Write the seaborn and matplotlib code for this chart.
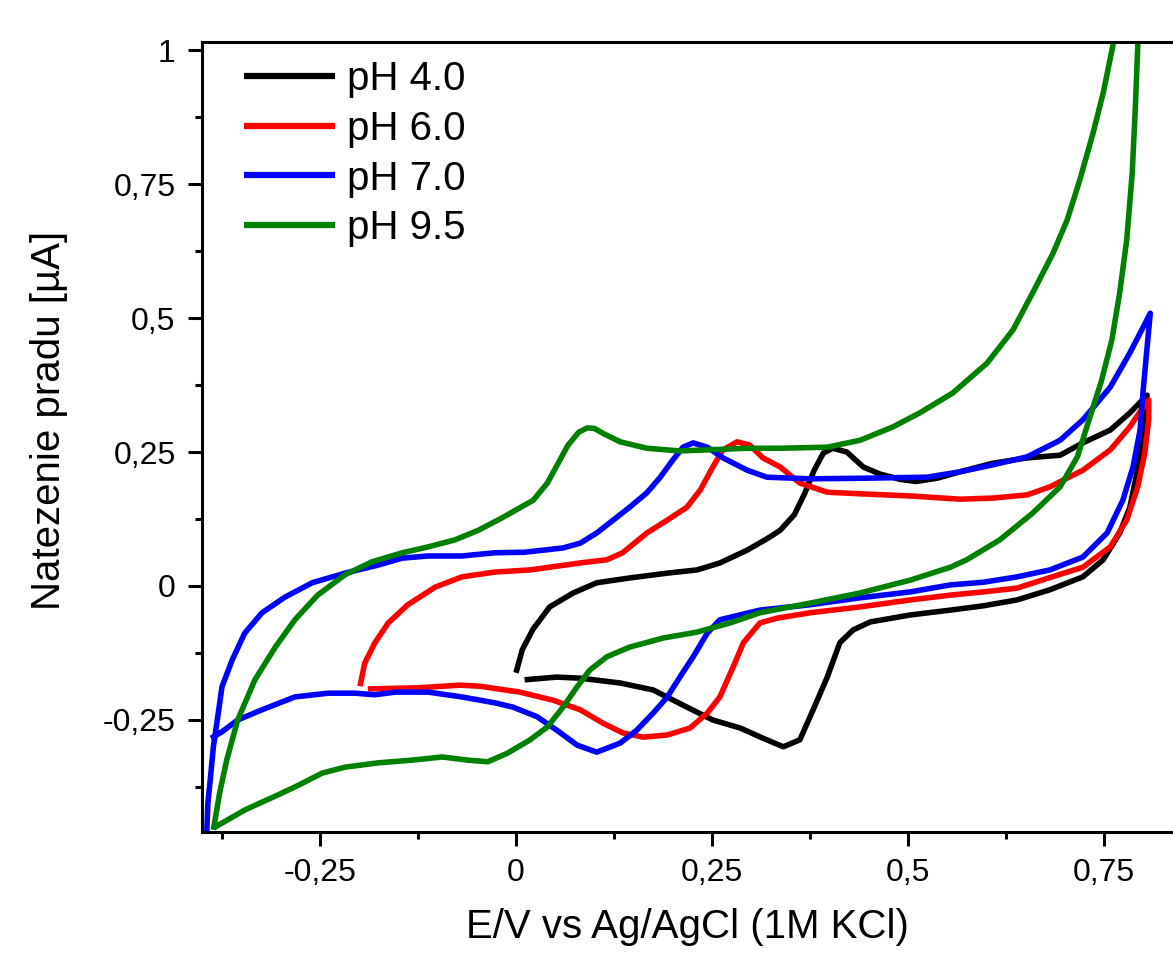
import numpy as np
import pandas as pd
import matplotlib
matplotlib.use("Agg")
import matplotlib.pyplot as plt
import seaborn as sns
from matplotlib.ticker import MultipleLocator, FuncFormatter
from matplotlib.lines import Line2D

# ---- data (E in V, I in µA), each series is one continuous CV path ----
E_ph40 = [0.000, 0.008, 0.022, 0.043, 0.073, 0.103, 0.145, 0.193, 0.231, 0.260, 0.295, 0.320,
          0.337, 0.355, 0.368, 0.380, 0.392, 0.404, 0.422, 0.443, 0.464, 0.490, 0.510, 0.537, 0.566,
          0.608, 0.652, 0.694, 0.723, 0.758, 0.783, 0.805,
          0.802, 0.798, 0.792, 0.783, 0.770, 0.749, 0.723, 0.681, 0.639, 0.596, 0.554, 0.503,
          0.452, 0.430, 0.413, 0.397, 0.379, 0.362, 0.341, 0.315, 0.286, 0.251, 0.218, 0.175,
          0.133, 0.082, 0.052, 0.011]
I_ph40 = [-0.162, -0.119, -0.080, -0.039, -0.013, 0.006, 0.015, 0.024, 0.030, 0.043, 0.067, 0.088,
          0.104, 0.133, 0.172, 0.215, 0.248, 0.257, 0.250, 0.222, 0.209, 0.199, 0.195, 0.201, 0.213,
          0.229, 0.239, 0.244, 0.267, 0.291, 0.323, 0.356,
          0.334, 0.272, 0.211, 0.147, 0.099, 0.049, 0.017, -0.007, -0.026, -0.037, -0.045, -0.054,
          -0.067, -0.082, -0.106, -0.170, -0.231, -0.287, -0.300, -0.284, -0.265, -0.250, -0.226, -0.194,
          -0.181, -0.172, -0.170, -0.175]

E_ph60 = [-0.199, -0.193, -0.180, -0.163, -0.138, -0.103, -0.069, -0.027, 0.018, 0.082, 0.116, 0.136,
          0.167, 0.193, 0.218, 0.235, 0.251, 0.264, 0.282, 0.298, 0.315, 0.337, 0.362, 0.397,
          0.439, 0.503, 0.566, 0.608, 0.652, 0.681, 0.723, 0.758, 0.783, 0.800, 0.807,
          0.807, 0.802, 0.793, 0.779, 0.758, 0.723, 0.688, 0.639, 0.596, 0.554, 0.503, 0.439,
          0.375, 0.333, 0.311, 0.290, 0.277, 0.260, 0.244, 0.222, 0.193, 0.162, 0.136, 0.111,
          0.082, 0.047, 0.005, -0.046, -0.071, -0.126, -0.189]
I_ph60 = [-0.187, -0.144, -0.106, -0.069, -0.035, -0.002, 0.017, 0.026, 0.030, 0.043, 0.049, 0.062,
          0.099, 0.123, 0.147, 0.179, 0.222, 0.254, 0.269, 0.263, 0.239, 0.222, 0.192, 0.175,
          0.172, 0.168, 0.162, 0.164, 0.170, 0.185, 0.216, 0.254, 0.297, 0.334, 0.347,
          0.310, 0.248, 0.185, 0.123, 0.073, 0.035, 0.019, -0.004, -0.011, -0.017, -0.026, -0.039,
          -0.050, -0.060, -0.069, -0.106, -0.151, -0.207, -0.237, -0.265, -0.278, -0.282, -0.274, -0.256,
          -0.231, -0.213, -0.198, -0.187, -0.185, -0.190, -0.192]

E_ph70 = [-0.395, -0.393, -0.390, -0.386, -0.381, -0.375, -0.362, -0.346, -0.324, -0.295, -0.260, -0.218,
          -0.176, -0.145, -0.112, -0.069, -0.027, 0.011, 0.060, 0.082, 0.103, 0.124, 0.145, 0.167,
          0.184, 0.200, 0.213, 0.226, 0.244, 0.264, 0.295, 0.320, 0.375, 0.439, 0.524, 0.566,
          0.608, 0.652, 0.694, 0.723, 0.758, 0.783, 0.800, 0.809,
          0.805, 0.800, 0.796, 0.787, 0.774, 0.754, 0.723, 0.681, 0.639, 0.596, 0.554, 0.503,
          0.439, 0.375, 0.311, 0.260, 0.244, 0.226, 0.209, 0.193, 0.175, 0.154, 0.133, 0.103,
          0.078, 0.052, 0.027, -0.004, -0.027, -0.069, -0.112, -0.154, -0.180, -0.205, -0.240,
          -0.282, -0.324, -0.355, -0.375, -0.389]
I_ph70 = [-0.483, -0.405, -0.362, -0.300, -0.250, -0.188, -0.138, -0.088, -0.050, -0.021, 0.006, 0.024,
          0.039, 0.052, 0.056, 0.056, 0.062, 0.063, 0.071, 0.080, 0.099, 0.123, 0.147, 0.174,
          0.203, 0.235, 0.259, 0.267, 0.259, 0.239, 0.216, 0.203, 0.200, 0.201, 0.203, 0.213,
          0.226, 0.241, 0.272, 0.310, 0.371, 0.435, 0.483, 0.509,
          0.446, 0.366, 0.291, 0.222, 0.160, 0.099, 0.054, 0.030, 0.017, 0.007, 0.002, -0.011,
          -0.022, -0.035, -0.045, -0.063, -0.088, -0.132, -0.170, -0.207, -0.237, -0.269, -0.293, -0.310,
          -0.297, -0.269, -0.244, -0.226, -0.218, -0.207, -0.198, -0.198, -0.203, -0.200, -0.200,
          -0.207, -0.231, -0.250, -0.272, -0.284]

E_ph95 = [-0.386, -0.378, -0.369, -0.355, -0.333, -0.307, -0.282, -0.253, -0.218, -0.184, -0.145, -0.112,
          -0.078, -0.048, -0.018, 0.022, 0.040, 0.056, 0.066, 0.080, 0.091, 0.100, 0.112, 0.133, 0.167, 0.209,
          0.295, 0.337, 0.397, 0.439, 0.481, 0.515, 0.557, 0.601, 0.634, 0.659, 0.685, 0.703, 0.719,
          0.736, 0.749, 0.761, 0.773, 0.796,
          0.793, 0.790, 0.786, 0.779, 0.770, 0.760, 0.747, 0.732, 0.716, 0.694, 0.659, 0.617, 0.575, 0.554,
          0.503, 0.439, 0.375, 0.311, 0.273, 0.231, 0.188, 0.145, 0.116, 0.094, 0.078, 0.060,
          0.040, 0.018, -0.011, -0.036, -0.061, -0.094, -0.133, -0.176, -0.218, -0.247, -0.282,
          -0.304, -0.346, -0.384]
I_ph95 = [-0.455, -0.386, -0.325, -0.250, -0.175, -0.114, -0.063, -0.017, 0.021, 0.045, 0.062, 0.073,
          0.086, 0.104, 0.127, 0.160, 0.192, 0.235, 0.262, 0.287, 0.295, 0.294, 0.284, 0.269, 0.257, 0.252,
          0.257, 0.257, 0.259, 0.272, 0.297, 0.323, 0.360, 0.416, 0.478, 0.547, 0.621, 0.683, 0.757,
          0.845, 0.920, 1.006, 1.150, 1.150,
          1.006, 0.894, 0.771, 0.646, 0.547, 0.459, 0.384, 0.315, 0.241, 0.185, 0.136, 0.086, 0.049, 0.035,
          0.011, -0.013, -0.032, -0.050, -0.069, -0.086, -0.097, -0.114, -0.132, -0.157, -0.188, -0.226,
          -0.263, -0.287, -0.312, -0.328, -0.325, -0.319, -0.325, -0.330, -0.338, -0.349, -0.375,
          -0.390, -0.418, -0.450]

labels = ["pH 4.0", "pH 6.0", "pH 7.0", "pH 9.5"]
colors = ["#000000", "#FF0000", "#0000FF", "#008000"]

frames = []
for lab, E, I in zip(labels, [E_ph40, E_ph60, E_ph70, E_ph95], [I_ph40, I_ph60, I_ph70, I_ph95]):
    frames.append(pd.DataFrame({"E": E, "I": I, "pH": lab, "idx": np.arange(len(E))}))
df = pd.concat(frames, ignore_index=True)

sns.set_style("ticks")
plt.rcParams["font.family"] = ["Liberation Sans", "DejaVu Sans"]
for k in ["text.color", "axes.labelcolor", "xtick.color", "ytick.color", "axes.edgecolor"]:
    plt.rcParams[k] = "black"

fig = plt.figure(figsize=(11.73, 9.56), dpi=100)
ax = fig.add_axes([202 / 1173, (956 - 832) / 956, 1 - 202 / 1173, (832 - 42) / 956])

sns.lineplot(data=df, x="E", y="I", hue="pH", hue_order=labels, palette=colors,
             sort=False, estimator=None, units="pH", linewidth=4.0, ax=ax, legend=False)
for ln in ax.lines:
    ln.set_solid_joinstyle("round")
    ln.set_solid_capstyle("butt")

ax.set_xlim(-0.4005, 0.838)
ax.set_ylim(-0.459, 1.015)

fmt = FuncFormatter(lambda v, p: ("%g" % round(v, 4)).replace(".", ","))
ax.xaxis.set_major_locator(MultipleLocator(0.25))
ax.xaxis.set_minor_locator(MultipleLocator(0.125))
ax.yaxis.set_major_locator(MultipleLocator(0.25))
ax.yaxis.set_minor_locator(MultipleLocator(0.125))
ax.xaxis.set_major_formatter(fmt)
ax.yaxis.set_major_formatter(fmt)
ax.set_xticks([-0.25, 0, 0.25, 0.5, 0.75])

ax.tick_params(which="major", direction="out", length=10, width=2.2, labelsize=23, pad=9,
               colors="black")
ax.tick_params(which="minor", direction="out", length=5, width=2.2, colors="black")
for side in ["left", "bottom", "top"]:
    ax.spines[side].set_linewidth(2.2)
    ax.spines[side].set_color("black")
ax.spines["right"].set_visible(False)

ax.set_xlabel("E/V vs Ag/AgCl (1M KCl)", fontsize=29, labelpad=14, color="black")
ax.set_ylabel("Natezenie pradu [µA]", fontsize=29, color="black")
ax.yaxis.set_label_coords(-0.138, 0.5215)

handles = [Line2D([], [], color=c, linewidth=4.5, solid_capstyle="butt") for c in colors]
ax.legend(handles, labels, loc="upper left", bbox_to_anchor=(0.043, 0.977), frameon=False,
          fontsize=29, handlelength=2.26, handletextpad=0.3, labelspacing=0.29,
          borderpad=0, borderaxespad=0)

fig.savefig("out.png", dpi=100)
